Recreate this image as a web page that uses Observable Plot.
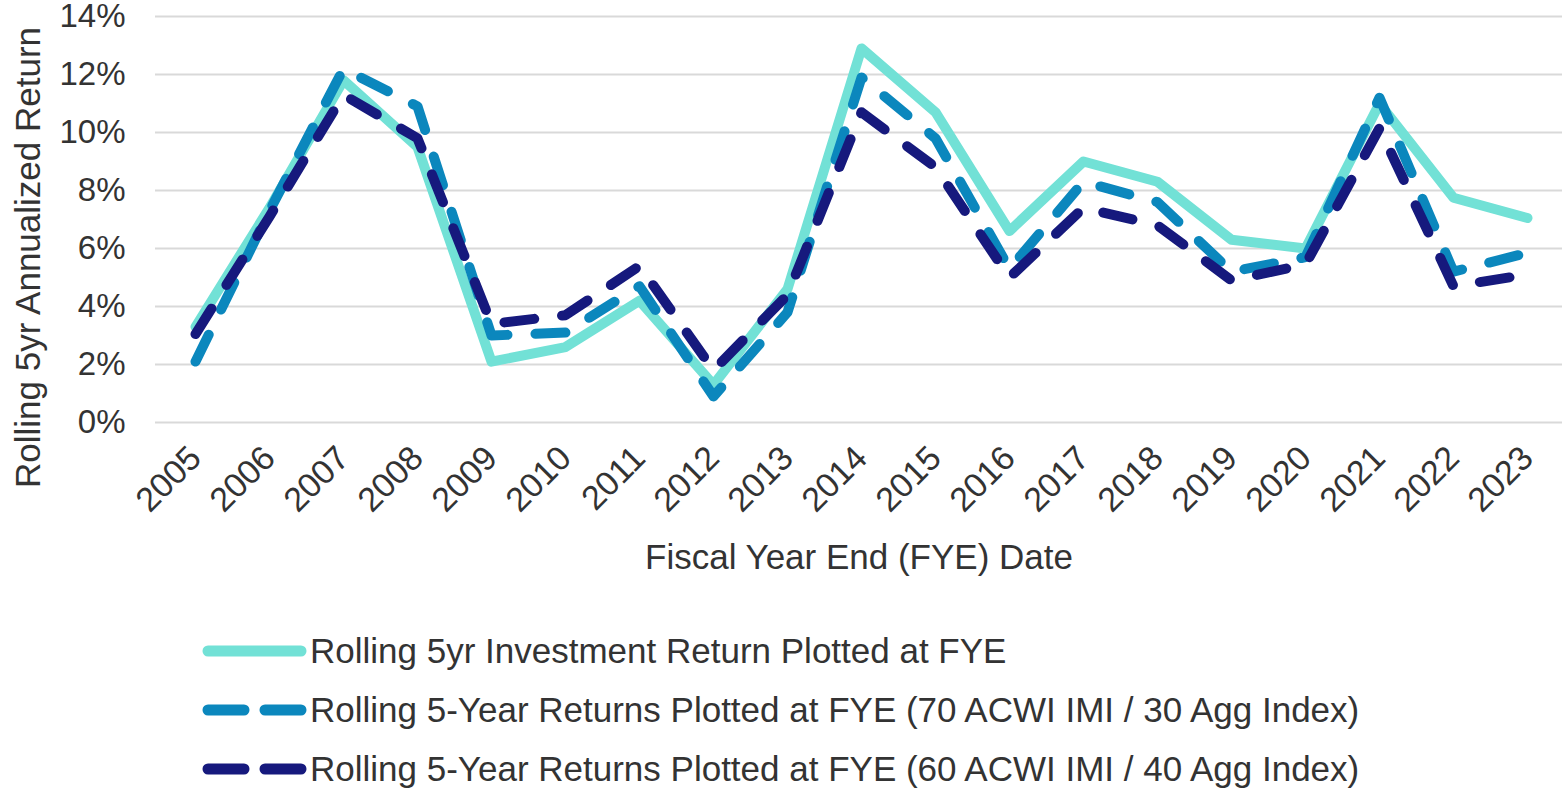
<!DOCTYPE html>
<html>
<head>
<meta charset="utf-8">
<script src="https://cdn.jsdelivr.net/npm/d3@7"></script>
<script src="https://cdn.jsdelivr.net/npm/@observablehq/plot@0.6"></script>
<style>
  html, body { margin: 0; padding: 0; background: #ffffff; }
  body { width: 1562px; height: 793px; overflow: hidden; font-family: "Liberation Sans", Arial, sans-serif; color: #333333; }
  #legend { margin-top: 21px; }
  .row { height: 59px; display: flex; align-items: center; }
  .row svg { margin-left: 198px; }
  .row span { font-size: 35px; margin-left: 0px; white-space: nowrap; }
</style>
</head>
<body>
<div id="chart"></div>
<div id="legend"></div>
<script>
const years = [2005, 2006, 2007, 2008, 2009, 2010, 2011, 2012, 2013, 2014, 2015, 2016, 2017, 2018, 2019, 2020, 2021, 2022, 2023];
const investmentReturn = [3.3, 7.4, 11.8, 9.5, 2.1, 2.6, 4.2, 1.3, 4.6, 12.9, 10.7, 6.6, 9.0, 8.3, 6.3, 6.0, 11.0, 7.75, 7.05];
const returns7030 = [2.1, 7.3, 12.2, 10.9, 3.0, 3.1, 4.7, 0.9, 3.8, 11.9, 9.8, 5.3, 8.3, 7.6, 5.2, 5.7, 11.2, 5.2, 5.85];
const returns6040 = [3.05, 7.1, 11.3, 9.8, 3.4, 3.7, 5.4, 1.8, 4.4, 10.7, 8.8, 5.0, 7.4, 6.8, 4.9, 5.45, 10.15, 4.7, 5.1];
const seriesNames = [
  "Rolling 5yr Investment Return Plotted at FYE",
  "Rolling 5-Year Returns Plotted at FYE (70 ACWI IMI / 30 Agg Index)",
  "Rolling 5-Year Returns Plotted at FYE (60 ACWI IMI / 40 Agg Index)"
];
const seriesColors = ["#72E1D6", "#0B87BD", "#16197D"];
const seriesDashes = [null, "30,28", "30,28"];
const yTicks = [0, 2, 4, 6, 8, 10, 12, 14];
const xTitle = "Fiscal Year End (FYE) Date";
const yTitle = "Rolling 5yr Annualized Return";

const seriesValues = [investmentReturn, returns7030, returns6040];
const rows = seriesValues.map((vals, i) => years.map((yr, j) => ({year: yr, value: vals[j], series: seriesNames[i]})));

const lineMarks = rows.map((data, i) => Plot.line(data, {
  x: "year", y: "value",
  stroke: seriesColors[i], strokeWidth: 10,
  strokeDasharray: seriesDashes[i] || undefined,
  strokeLinecap: "round", strokeLinejoin: "round"
}));

const chart = Plot.plot({
  width: 1562,
  height: 600,
  marginTop: 16,
  marginBottom: 178,
  marginLeft: 155,
  marginRight: 0,
  style: { fontFamily: "'Liberation Sans', Arial, sans-serif", fontSize: "35px", color: "#333333", background: "#ffffff" },
  x: { type: "point", domain: years, range: [194, 1528], padding: 0 },
  y: { domain: [0, 14] },
  marks: [
    Plot.ruleY(yTicks, { stroke: "#d9d9d9", strokeWidth: 2 }),
    Plot.axisY({ ticks: yTicks, tickSize: 0, tickPadding: 30, tickFormat: d => d + "%", label: null, fill: "#333333", fontSize: 33 }),
    Plot.axisX({ tickSize: 0, tickPadding: 30, tickRotate: -45, tickFormat: d => String(d), label: null, fill: "#333333", fontSize: 34 }),
    ...lineMarks,
    Plot.text([xTitle], { text: d => d, frameAnchor: "bottom", dy: 135, lineAnchor: "middle", fontSize: 35, fill: "#333333" }),
    Plot.text([yTitle], { text: d => d, frameAnchor: "left", textAnchor: "middle", rotate: -90, dx: -127, dy: 38, lineAnchor: "middle", fontSize: 35, fill: "#333333" })
  ]
});
document.getElementById("chart").appendChild(chart);

const legend = document.getElementById("legend");
seriesNames.forEach((name, i) => {
  const row = document.createElement("div");
  row.className = "row";
  const ns = "http://www.w3.org/2000/svg";
  const svg = document.createElementNS(ns, "svg");
  svg.setAttribute("width", 112);
  svg.setAttribute("height", 20);
  const line = document.createElementNS(ns, "line");
  line.setAttribute("x1", 10); line.setAttribute("x2", 103);
  line.setAttribute("y1", 10); line.setAttribute("y2", 10);
  line.setAttribute("stroke", seriesColors[i]);
  line.setAttribute("stroke-width", 11);
  line.setAttribute("stroke-linecap", "round");
  if (seriesDashes[i]) line.setAttribute("stroke-dasharray", "36,21");
  svg.appendChild(line);
  const span = document.createElement("span");
  span.textContent = name;
  row.appendChild(svg);
  row.appendChild(span);
  legend.appendChild(row);
});
</script>
</body>
</html>
